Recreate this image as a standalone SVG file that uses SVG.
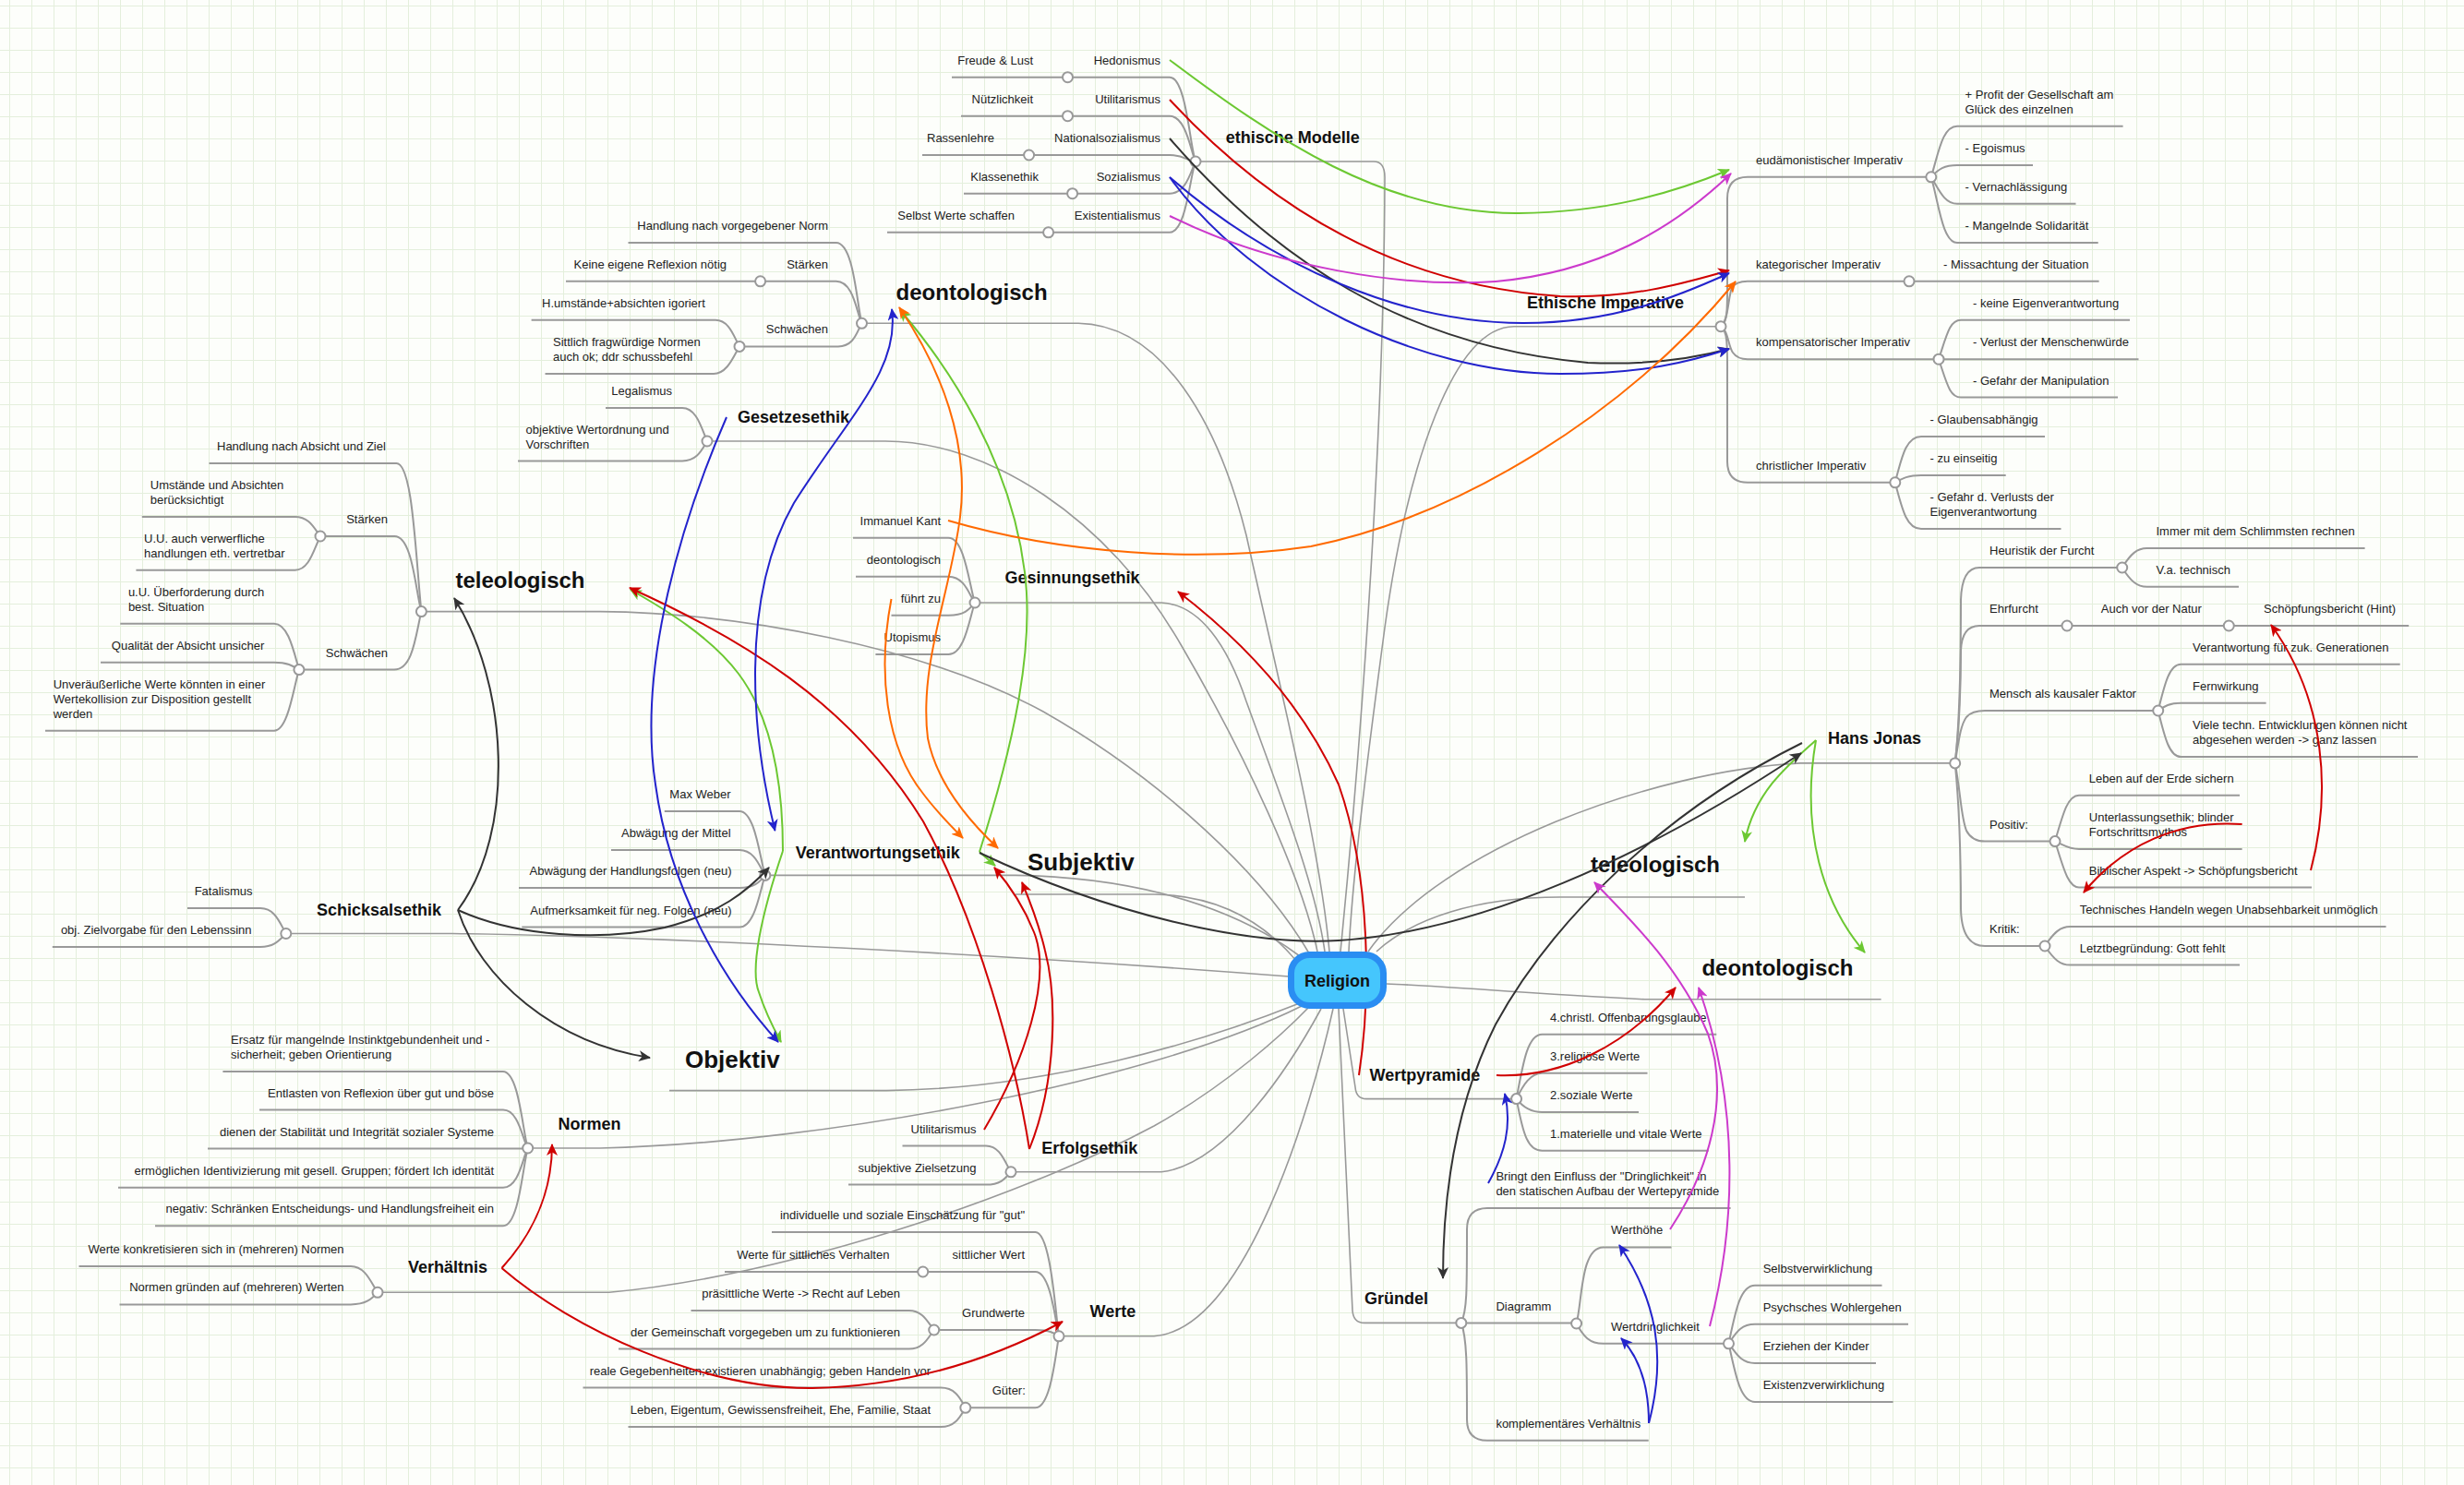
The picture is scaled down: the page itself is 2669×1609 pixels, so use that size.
<svg xmlns="http://www.w3.org/2000/svg" width="2669" height="1609" viewBox="0 0 2669 1609">
<defs>
<style>
.t{font-family:"Liberation Sans",Arial,sans-serif;font-size:13px;fill:#222}
.e{text-anchor:end}
.h{font-family:"Liberation Sans",Arial,sans-serif;font-weight:bold;font-size:18px;fill:#111}
.h24{font-size:24px}
.h26{font-size:26px}
.ln{fill:none;stroke:#999;stroke-width:2}
.cn{fill:none;stroke:#999;stroke-width:1.6}
.hub{fill:#fff;stroke:#999;stroke-width:2}
.rel{fill:none;stroke-width:2}
.g{stroke:#6cc832}.r{stroke:#d00000}.b{stroke:#2323cc}.k{stroke:#333}.o{stroke:#ff6a00}.m{stroke:#cc3acc}
</style>
<pattern id="grid" x="10" y="6" width="24" height="24" patternUnits="userSpaceOnUse"><path d="M0.5,0 V24 M0,0.5 H24" fill="none" stroke="#e4efdc" stroke-width="1"/></pattern>
<marker id="aG" markerUnits="userSpaceOnUse" markerWidth="14" markerHeight="12" refX="12" refY="6" orient="auto-start-reverse"><path d="M0,0 L13,6 L0,12 L3.5,6 z" fill="#6cc832"/></marker>
<marker id="aR" markerUnits="userSpaceOnUse" markerWidth="14" markerHeight="12" refX="12" refY="6" orient="auto-start-reverse"><path d="M0,0 L13,6 L0,12 L3.5,6 z" fill="#d00000"/></marker>
<marker id="aB" markerUnits="userSpaceOnUse" markerWidth="14" markerHeight="12" refX="12" refY="6" orient="auto-start-reverse"><path d="M0,0 L13,6 L0,12 L3.5,6 z" fill="#2323cc"/></marker>
<marker id="aK" markerUnits="userSpaceOnUse" markerWidth="14" markerHeight="12" refX="12" refY="6" orient="auto-start-reverse"><path d="M0,0 L13,6 L0,12 L3.5,6 z" fill="#333"/></marker>
<marker id="aO" markerUnits="userSpaceOnUse" markerWidth="14" markerHeight="12" refX="12" refY="6" orient="auto-start-reverse"><path d="M0,0 L13,6 L0,12 L3.5,6 z" fill="#ff6a00"/></marker>
<marker id="aM" markerUnits="userSpaceOnUse" markerWidth="14" markerHeight="12" refX="12" refY="6" orient="auto-start-reverse"><path d="M0,0 L13,6 L0,12 L3.5,6 z" fill="#cc3acc"/></marker>
</defs>
<rect width="2669" height="1609" fill="#fdfefb"/>
<rect width="2669" height="1609" fill="url(#grid)"/>

<g id="connectors">
<!-- main connectors to Religion -->
<path class="cn" d="M1295,175 H1488 Q1500,175 1500,192 C1499,500 1470,850 1452,1031"/>
<path class="cn" d="M1864,353.7 H1640 C1575,354 1525,500 1500,680 C1480,830 1465,950 1461,1031"/>
<path class="cn" d="M933.5,350.3 H1168 C1260,352 1320,460 1350,580 C1390,760 1430,920 1440,1031"/>
<path class="cn" d="M766,478 H959 C1070,478 1200,560 1280,700 C1350,820 1410,950 1427,1031"/>
<path class="cn" d="M1056,653 H1258 C1300,655 1330,700 1350,760 C1390,870 1425,960 1435,1031"/>
<path class="cn" d="M456.4,662.6 H650 C800,664 1000,700 1130,771 C1260,845 1370,950 1418,1033"/>
<path class="cn" d="M828.8,948.4 H1100 C1200,950 1320,970 1408,1036"/>
<path class="cn" d="M1100,969 H1250 C1320,970 1370,1000 1405,1042"/>
<path class="cn" d="M309.8,1011.5 H490 C700,1014 1100,1035 1396,1058"/>
<path class="cn" d="M725,1181.6 H960 C1130,1180 1300,1130 1405,1088"/>
<path class="cn" d="M571.7,1244 H650 C900,1238 1250,1170 1410,1090"/>
<path class="cn" d="M409,1400.3 H660 C850,1382 1100,1300 1250,1220 C1330,1175 1390,1120 1418,1091"/>
<path class="cn" d="M1095,1269.8 H1258 C1330,1262 1400,1150 1431,1093"/>
<path class="cn" d="M1147,1447.8 H1250 C1350,1440 1420,1200 1444,1093"/>
<path class="cn" d="M2117.7,826.9 H1950 C1790,835 1560,920 1482,1031"/>
<path class="cn" d="M1890,972 H1690 C1600,972 1530,995 1491,1031"/>
<path class="cn" d="M2037.6,1082.8 H1781.5 C1650,1076 1560,1068 1502,1066"/>
<path class="cn" d="M1642.6,1190.6 H1480 Q1469,1190.6 1468,1178 L1455,1093"/>
<path class="cn" d="M1582.8,1433.4 H1478 Q1466,1433.4 1465,1420 L1450,1093"/>

<!-- ethische Modelle -->
<path class="ln" d="M1031,83.7 H1267 C1285,83.7 1289,160 1295,175"/>
<path class="ln" d="M1041,125.7 H1267 C1285,125.7 1290,165 1295,175"/>
<path class="ln" d="M999,168 H1267 C1283,168 1288,175 1295,175"/>
<path class="ln" d="M1044,209.7 H1267 C1285,209.7 1290,185 1295,175"/>
<path class="ln" d="M961,251.8 H1267 C1285,251.8 1289,190 1295,175"/>

<!-- Ethische Imperative -->
<path class="ln" d="M1864,353.7 C1872,350 1871,330 1871,300 V215 Q1871,191.8 1893,191.8 H2091.8"/>
<path class="ln" d="M1864,353.7 C1872,350 1872,320 1876,312 Q1880,304.8 1893,304.8 H2273.6"/>
<path class="ln" d="M1864,353.7 C1872,358 1872,375 1877,382 Q1882,389.2 1893,389.2 H2100"/>
<path class="ln" d="M1864,353.7 C1872,358 1871,380 1871,410 V500 Q1871,522.8 1893,522.8 H2052.8"/>
<path class="ln" d="M2091.8,191.8 C2100,165 2104,136.7 2120,136.7 H2299.6"/>
<path class="ln" d="M2091.8,191.8 C2100,183 2106,179 2120,179 H2202"/>
<path class="ln" d="M2091.8,191.8 C2100,205 2106,220.8 2120,220.8 H2248.5"/>
<path class="ln" d="M2091.8,191.8 C2100,220 2104,263 2120,263 H2272.7"/>
<path class="ln" d="M2100,389.2 C2109,362 2112,346.8 2124,346.8 H2307"/>
<path class="ln" d="M2100,389.2 H2316.5"/>
<path class="ln" d="M2100,389.2 C2109,416 2112,430.5 2124,430.5 H2294"/>
<path class="ln" d="M2052.8,522.8 C2061,490 2066,472.9 2081,472.9 H2215"/>
<path class="ln" d="M2052.8,522.8 C2061,518 2067,515 2081,515 H2172.7"/>
<path class="ln" d="M2052.8,522.8 C2061,555 2066,573 2081,573 H2232.5"/>

<!-- deontologisch left -->
<path class="ln" d="M680.5,263 H905.7 C925,263 928,330 933.5,350.3"/>
<path class="ln" d="M613,304.8 H905.7 C925,304.8 928,340 933.5,350.3"/>
<path class="ln" d="M801,375.4 H907.8 C925,375.4 928,360 933.5,350.3"/>
<path class="ln" d="M575.6,346.8 H775 C790,346.8 795,365 801,375.4"/>
<path class="ln" d="M590.5,405 H773 C788,405 795,385 801,375.4"/>

<!-- Gesetzesethik -->
<path class="ln" d="M656,442 H739 C755,442 760,465 766,478"/>
<path class="ln" d="M561,499.4 H739 C755,499.4 760,488 766,478"/>

<!-- teleologisch left -->
<path class="ln" d="M226.5,502 H429.4 C447,502 450,600 456.4,662.6"/>
<path class="ln" d="M347,581 H427.3 C447,581 450,640 456.4,662.6"/>
<path class="ln" d="M153.8,560 H319.6 C335,560 340,572 347,581"/>
<path class="ln" d="M147.4,617.8 H319.6 C335,617.8 340,595 347,581"/>
<path class="ln" d="M323.9,725.6 H427 C447,725.6 450,690 456.4,662.6"/>
<path class="ln" d="M130.3,675.7 H297 C312,675.7 318,705 323.9,725.6"/>
<path class="ln" d="M109,717.7 H297 C312,717.7 318,722 323.9,725.6"/>
<path class="ln" d="M49,791.7 H297 C312,791.7 318,745 323.9,725.6"/>

<!-- Schicksalsethik -->
<path class="ln" d="M203,984 H282 C298,984 303,1000 309.8,1011.5"/>
<path class="ln" d="M56.8,1026 H282 C298,1026 303,1018 309.8,1011.5"/>

<!-- Verantwortungsethik -->
<path class="ln" d="M719.8,878.9 H801 C818,878.9 823,930 828.8,948.4"/>
<path class="ln" d="M662,921 H801 C818,921 823,940 828.8,948.4"/>
<path class="ln" d="M562,962 H801 C818,962 823,955 828.8,948.4"/>
<path class="ln" d="M565.3,1004.6 H801 C818,1004.6 823,965 828.8,948.4"/>

<!-- Gesinnungsethik -->
<path class="ln" d="M924,582.7 H1027.5 C1045,582.7 1050,635 1056,653"/>
<path class="ln" d="M927,624.7 H1027.5 C1045,624.7 1050,645 1056,653"/>
<path class="ln" d="M965.5,666.7 H1027.5 C1045,666.7 1050,660 1056,653"/>
<path class="ln" d="M948.4,709 H1027.5 C1045,709 1050,670 1056,653"/>

<!-- Normen -->
<path class="ln" d="M241.4,1161 H544.8 C562,1161 566,1225 571.7,1244"/>
<path class="ln" d="M281,1202.6 H545 C562,1202.6 566,1235 571.7,1244"/>
<path class="ln" d="M225,1244.6 H571.7"/>
<path class="ln" d="M128,1286.7 H545 C562,1286.7 566,1255 571.7,1244"/>
<path class="ln" d="M168,1328.3 H545 C562,1328.3 566,1265 571.7,1244"/>

<!-- Verhältnis -->
<path class="ln" d="M85.5,1372 H380 C396,1372 402,1390 409,1400.3"/>
<path class="ln" d="M129.5,1413.4 H380 C396,1413.4 402,1408 409,1400.3"/>

<!-- Erfolgsethik -->
<path class="ln" d="M977.5,1241.5 H1068 C1083,1241.5 1088,1258 1095,1269.8"/>
<path class="ln" d="M919,1283.6 H1068 C1083,1283.6 1088,1278 1095,1269.8"/>

<!-- Werte -->
<path class="ln" d="M836,1335 H1121.5 C1138,1335 1143,1420 1147,1447.8"/>
<path class="ln" d="M785,1378 H1121.5 C1138,1378 1143,1430 1147,1447.8"/>
<path class="ln" d="M1011.7,1441 H1121.5 C1138,1441 1143,1445 1147,1447.8"/>
<path class="ln" d="M1045.8,1525.3 H1121.5 C1138,1525.3 1143,1470 1147,1447.8"/>
<path class="ln" d="M748.5,1420 H984.7 C1000,1420 1005,1433 1011.7,1441"/>
<path class="ln" d="M670,1461.6 H984.7 C1000,1461.6 1005,1450 1011.7,1441"/>
<path class="ln" d="M631.5,1503.6 H1019 C1035,1503.6 1040,1515 1045.8,1525.3"/>
<path class="ln" d="M680.5,1546 H1019 C1035,1546 1040,1535 1045.8,1525.3"/>

<!-- Hans Jonas -->
<path class="ln" d="M2117.7,826.9 C2122,790 2124,720 2124,650 Q2125,615 2144,615 H2298.7"/>
<path class="ln" d="M2117.7,826.9 C2122,790 2124,740 2124,705 Q2125,678 2144,678 H2609.2"/>
<path class="ln" d="M2117.7,826.9 C2122,800 2124,785 2130,777 Q2136,770 2150,770 H2337.7"/>
<path class="ln" d="M2117.7,826.9 C2124,860 2124,885 2130,900 Q2136,911.6 2150,911.6 H2226"/>
<path class="ln" d="M2117.7,826.9 C2122,870 2124,920 2124,985 Q2125,1025 2150,1025 H2215"/>
<path class="ln" d="M2298.7,615 C2308,600 2315,594 2325.6,594 H2561.6"/>
<path class="ln" d="M2298.7,615 C2308,630 2315,635.7 2325.6,635.7 H2425"/>
<path class="ln" d="M2337.7,770 C2345,740 2350,719.8 2362.4,719.8 H2599.7"/>
<path class="ln" d="M2337.7,770 C2345,765 2350,761.8 2362.4,761.8 H2454.6"/>
<path class="ln" d="M2337.7,770 C2345,800 2350,820 2362.4,820 H2619"/>
<path class="ln" d="M2226,911.6 C2235,880 2240,861.7 2252,861.7 H2426"/>
<path class="ln" d="M2226,911.6 C2235,915 2240,919.9 2252,919.9 H2428.6"/>
<path class="ln" d="M2226,911.6 C2235,940 2240,961.5 2252,961.5 H2504"/>
<path class="ln" d="M2215,1025 C2225,1010 2232,1004 2242.4,1004 H2584.5"/>
<path class="ln" d="M2215,1025 C2225,1040 2232,1045.6 2242.4,1045.6 H2426"/>

<!-- Wertpyramide -->
<path class="ln" d="M1642.6,1190.6 C1650,1150 1655,1120.7 1670.4,1120.7 H1859.3"/>
<path class="ln" d="M1642.6,1190.6 C1650,1175 1658,1162.7 1670.4,1162.7 H1784.5"/>
<path class="ln" d="M1642.6,1190.6 C1650,1200 1658,1205 1670.4,1205 H1775"/>
<path class="ln" d="M1642.6,1190.6 C1650,1230 1655,1246.7 1670.4,1246.7 H1850.7"/>

<!-- Gründel -->
<path class="ln" d="M1582.8,1433.4 C1589,1420 1589,1400 1589,1332 Q1589,1309 1611,1309 H1874.6"/>
<path class="ln" d="M1582.8,1433.4 H1707.6"/>
<path class="ln" d="M1582.8,1433.4 C1589,1450 1589,1480 1589,1538 Q1589,1560.8 1611,1560.8 H1785.7"/>
<path class="ln" d="M1707.6,1434 C1714,1410 1712,1351.4 1736.6,1351.4 H1810.5"/>
<path class="ln" d="M1707.6,1434 C1715,1448 1722,1455.8 1736.6,1455.8 H1872.5"/>
<path class="ln" d="M1872.5,1455.8 C1880,1420 1885,1392.7 1901,1392.7 H2038.5"/>
<path class="ln" d="M1872.5,1455.8 C1880,1445 1885,1434.8 1901,1434.8 H2067"/>
<path class="ln" d="M1872.5,1455.8 C1880,1465 1885,1477 1901,1477 H2032"/>
<path class="ln" d="M1872.5,1455.8 C1880,1490 1885,1519 1901,1519 H2050.6"/>
</g>

<g id="node-ethische-modelle">
<text class="h" x="1327.7" y="155">ethische Modelle</text>
<text class="t e" x="1257" y="70">Hedonismus</text>
<text class="t e" x="1257" y="112">Utilitarismus</text>
<text class="t e" x="1257" y="154">Nationalsozialismus</text>
<text class="t e" x="1257" y="196">Sozialismus</text>
<text class="t e" x="1257" y="238">Existentialismus</text>
<text class="t e" x="1119" y="70">Freude &amp; Lust</text>
<text class="t e" x="1119" y="112">Nützlichkeit</text>
<text class="t e" x="1077" y="154">Rassenlehre</text>
<text class="t e" x="1125" y="196">Klassenethik</text>
<text class="t e" x="1099" y="238">Selbst Werte schaffen</text>
<circle class="hub" cx="1156.5" cy="83.7" r="5.5"/>
<circle class="hub" cx="1156.5" cy="125.7" r="5.5"/>
<circle class="hub" cx="1114.6" cy="168" r="5.5"/>
<circle class="hub" cx="1161.6" cy="209.7" r="5.5"/>
<circle class="hub" cx="1135.6" cy="251.8" r="5.5"/>
<circle class="hub" cx="1295" cy="175" r="5.5"/>
</g>

<g id="node-ethische-imperative">
<text class="h" x="1654" y="333.5">Ethische Imperative</text>
<text class="t" x="1902" y="178">eudämonistischer Imperativ</text>
<text class="t" x="1902" y="291">kategorischer Imperativ</text>
<text class="t" x="1902" y="375">kompensatorischer Imperativ</text>
<text class="t" x="1902" y="509">christlicher Imperativ</text>
<text class="t" x="2128.6" y="106.7">+ Profit der Gesellschaft am</text>
<text class="t" x="2128.6" y="122.7">Glück des einzelnen</text>
<text class="t" x="2128.6" y="165">- Egoismus</text>
<text class="t" x="2128.6" y="206.8">- Vernachlässigung</text>
<text class="t" x="2128.6" y="249">- Mangelnde Solidarität</text>
<text class="t" x="2105" y="290.8">- Missachtung der Situation</text>
<text class="t" x="2137" y="332.8">- keine Eigenverantwortung</text>
<text class="t" x="2137" y="375.2">- Verlust der Menschenwürde</text>
<text class="t" x="2137" y="416.5">- Gefahr der Manipulation</text>
<text class="t" x="2090.5" y="458.9">- Glaubensabhängig</text>
<text class="t" x="2090.5" y="501">- zu einseitig</text>
<text class="t" x="2090.5" y="543">- Gefahr d. Verlusts der</text>
<text class="t" x="2090.5" y="559">Eigenverantwortung</text>
<circle class="hub" cx="1864" cy="353.7" r="5.5"/>
<circle class="hub" cx="2091.8" cy="191.8" r="5.5"/>
<circle class="hub" cx="2068" cy="304.8" r="5.5"/>
<circle class="hub" cx="2100" cy="389.2" r="5.5"/>
<circle class="hub" cx="2052.8" cy="522.8" r="5.5"/>
</g>

<g id="node-deontologisch-links">
<text class="h h24" x="970.6" y="325">deontologisch</text>
<text class="t e" x="897" y="249">Handlung nach vorgegebener Norm</text>
<text class="t e" x="897" y="290.8">Stärken</text>
<text class="t e" x="787" y="290.8">Keine eigene Reflexion nötig</text>
<text class="t e" x="897" y="361.4">Schwächen</text>
<text class="t e" x="763.8" y="332.8">H.umstände+absichten igoriert</text>
<text class="t" x="599" y="375">Sittlich fragwürdige Normen</text>
<text class="t" x="599" y="391">auch ok; ddr schussbefehl</text>
<circle class="hub" cx="823.6" cy="304.8" r="5.5"/>
<circle class="hub" cx="801" cy="375.4" r="5.5"/>
<circle class="hub" cx="933.5" cy="350.3" r="5.5"/>
</g>

<g id="node-gesetzesethik">
<text class="h" x="798.9" y="458">Gesetzesethik</text>
<text class="t e" x="728" y="428">Legalismus</text>
<text class="t" x="569.6" y="469.5">objektive Wertordnung und</text>
<text class="t" x="569.6" y="485.5">Vorschriften</text>
<circle class="hub" cx="766" cy="478" r="5.5"/>
</g>

<g id="node-teleologisch-links">
<text class="h h24" x="493.5" y="637">teleologisch</text>
<text class="t" x="235" y="488">Handlung nach Absicht und Ziel</text>
<text class="t e" x="420" y="567">Stärken</text>
<text class="t" x="162.8" y="530">Umstände und Absichten</text>
<text class="t" x="162.8" y="546">berücksichtigt</text>
<text class="t" x="156" y="588">U.U. auch verwerfliche</text>
<text class="t" x="156" y="604">handlungen eth. vertretbar</text>
<text class="t e" x="420" y="711.6">Schwächen</text>
<text class="t" x="138.9" y="646">u.U. Überforderung durch</text>
<text class="t" x="138.9" y="662">best. Situation</text>
<text class="t e" x="286.3" y="703.7">Qualität der Absicht unsicher</text>
<text class="t" x="57.7" y="746">Unveräußerliche Werte könnten in einer</text>
<text class="t" x="57.7" y="762">Wertekollision zur Disposition gestellt</text>
<text class="t" x="57.7" y="778">werden</text>
<circle class="hub" cx="347" cy="581" r="5.5"/>
<circle class="hub" cx="323.9" cy="725.6" r="5.5"/>
<circle class="hub" cx="456.4" cy="662.6" r="5.5"/>
</g>

<g id="node-schicksalsethik">
<text class="h" x="343" y="991.5">Schicksalsethik</text>
<text class="t e" x="273.5" y="970">Fatalismus</text>
<text class="t e" x="272.6" y="1012">obj. Zielvorgabe für den Lebenssinn</text>
<circle class="hub" cx="309.8" cy="1011.5" r="5.5"/>
</g>

<g id="node-verantwortungsethik">
<text class="h" x="861.7" y="929.5">Verantwortungsethik</text>
<text class="t e" x="791.6" y="865">Max Weber</text>
<text class="t e" x="791.6" y="907">Abwägung der Mittel</text>
<text class="t e" x="792.5" y="948">Abwägung der Handlungsfolgen (neu)</text>
<text class="t e" x="792.5" y="990.6">Aufmerksamkeit für neg. Folgen (neu)</text>
<circle class="hub" cx="828.8" cy="948.4" r="5.5"/>
</g>

<g id="node-gesinnungsethik">
<text class="h" x="1088.6" y="631.6">Gesinnungsethik</text>
<text class="t e" x="1019" y="568.7">Immanuel Kant</text>
<text class="t e" x="1019" y="610.7">deontologisch</text>
<text class="t e" x="1019" y="652.7">führt zu</text>
<text class="t e" x="1019" y="695">Utopismus</text>
<circle class="hub" cx="1056" cy="653" r="5.5"/>
</g>

<g id="node-subjektiv">
<text class="h h26" x="1113" y="943">Subjektiv</text>
</g>

<g id="node-objektiv">
<text class="h h26" x="742" y="1157">Objektiv</text>
</g>

<g id="node-normen">
<text class="h" x="604.6" y="1224">Normen</text>
<text class="t" x="250" y="1131">Ersatz für mangelnde Instinktgebundenheit und -</text>
<text class="t" x="250" y="1147">sicherheit; geben Orientierung</text>
<text class="t e" x="535" y="1188.6">Entlasten von Reflexion über gut und böse</text>
<text class="t e" x="535" y="1230.6">dienen der Stabilität und Integrität sozialer Systeme</text>
<text class="t e" x="535" y="1272.7">ermöglichen Identivizierung mit gesell. Gruppen; fördert Ich identität</text>
<text class="t e" x="535" y="1314.3">negativ: Schränken Entscheidungs- und Handlungsfreiheit ein</text>
<circle class="hub" cx="571.7" cy="1244" r="5.5"/>
</g>

<g id="node-verhaeltnis">
<text class="h" x="442" y="1379">Verhältnis</text>
<text class="t e" x="372.6" y="1358">Werte konkretisieren sich in (mehreren) Normen</text>
<text class="t e" x="372.6" y="1399.4">Normen gründen auf (mehreren) Werten</text>
<circle class="hub" cx="409" cy="1400.3" r="5.5"/>
</g>

<g id="node-erfolgsethik">
<text class="h" x="1128.3" y="1250">Erfolgsethik</text>
<text class="t e" x="1057.4" y="1227.5">Utilitarismus</text>
<text class="t e" x="1057.4" y="1269.6">subjektive Zielsetzung</text>
<circle class="hub" cx="1095" cy="1269.8" r="5.5"/>
</g>

<g id="node-werte">
<text class="h" x="1180.5" y="1427">Werte</text>
<text class="t e" x="1110" y="1321">individuelle und soziale Einschätzung für "gut"</text>
<text class="t e" x="1110" y="1364">sittlicher Wert</text>
<text class="t e" x="963.4" y="1364">Werte für sittliches Verhalten</text>
<text class="t e" x="1110" y="1427">Grundwerte</text>
<text class="t e" x="975" y="1406">präsittliche Werte -&gt; Recht auf Leben</text>
<text class="t e" x="975" y="1447.6">der Gemeinschaft vorgegeben um zu funktionieren</text>
<text class="t e" x="1110.8" y="1511">Güter:</text>
<text class="t e" x="1008" y="1489.6">reale Gegebenheiten;existieren unabhängig; geben Handeln vor</text>
<text class="t e" x="1008" y="1532">Leben, Eigentum, Gewissensfreiheit, Ehe, Familie, Staat</text>
<circle class="hub" cx="999.7" cy="1378" r="5.5"/>
<circle class="hub" cx="1011.7" cy="1441" r="5.5"/>
<circle class="hub" cx="1045.8" cy="1525.3" r="5.5"/>
<circle class="hub" cx="1147" cy="1447.8" r="5.5"/>
</g>

<g id="node-hans-jonas">
<text class="h" x="1980" y="806">Hans Jonas</text>
<text class="t" x="2155" y="601">Heuristik der Furcht</text>
<text class="t" x="2335.5" y="580">Immer mit dem Schlimmsten rechnen</text>
<text class="t" x="2335.5" y="621.7">V.a. technisch</text>
<text class="t" x="2155" y="664">Ehrfurcht</text>
<text class="t" x="2275.8" y="664">Auch vor der Natur</text>
<text class="t" x="2452" y="664">Schöpfungsbericht (Hint)</text>
<text class="t" x="2155" y="756">Mensch als kausaler Faktor</text>
<text class="t" x="2375" y="705.8">Verantwortung für zuk. Generationen</text>
<text class="t" x="2375" y="747.8">Fernwirkung</text>
<text class="t" x="2375" y="790">Viele techn. Entwicklungen können nicht</text>
<text class="t" x="2375" y="806">abgesehen werden -&gt; ganz lassen</text>
<text class="t" x="2155" y="897.6">Positiv:</text>
<text class="t" x="2262.8" y="847.7">Leben auf der Erde sichern</text>
<text class="t" x="2262.8" y="889.9">Unterlassungsethik; blinder</text>
<text class="t" x="2262.8" y="905.9">Fortschrittsmythos</text>
<text class="t" x="2262.8" y="947.5">Biblischer Aspekt -&gt; Schöpfungsbericht</text>
<text class="t" x="2155" y="1011">Kritik:</text>
<text class="t" x="2252.8" y="990">Technisches Handeln wegen Unabsehbarkeit unmöglich</text>
<text class="t" x="2252.8" y="1031.6">Letztbegründung: Gott fehlt</text>
<circle class="hub" cx="2298.7" cy="615" r="5.5"/>
<circle class="hub" cx="2239" cy="678" r="5.5"/>
<circle class="hub" cx="2414.3" cy="678" r="5.5"/>
<circle class="hub" cx="2337.7" cy="770" r="5.5"/>
<circle class="hub" cx="2226" cy="911.6" r="5.5"/>
<circle class="hub" cx="2215" cy="1025" r="5.5"/>
<circle class="hub" cx="2117.7" cy="826.9" r="5.5"/>
</g>

<g id="node-teleologisch-rechts">
<text class="h h24" x="1723" y="945">teleologisch</text>
</g>

<g id="node-deontologisch-rechts">
<text class="h h24" x="1843.4" y="1057">deontologisch</text>
</g>

<g id="node-wertpyramide">
<text class="h" x="1483.6" y="1170.6">Wertpyramide</text>
<text class="t" x="1679" y="1106.7">4.christl. Offenbarungsglaube</text>
<text class="t" x="1679" y="1148.7">3.religiöse Werte</text>
<text class="t" x="1679" y="1191">2.soziale Werte</text>
<text class="t" x="1679" y="1232.7">1.materielle und vitale Werte</text>
<circle class="hub" cx="1642.6" cy="1190.6" r="5.5"/>
</g>

<g id="node-gruendel">
<text class="h" x="1478" y="1413.4">Gründel</text>
<text class="t" x="1620.4" y="1279">Bringt den Einfluss der "Dringlichkeit" in</text>
<text class="t" x="1620.4" y="1295">den statischen Aufbau der Wertepyramide</text>
<text class="t" x="1620.4" y="1420">Diagramm</text>
<text class="t" x="1745" y="1337.4">Werthöhe</text>
<text class="t" x="1745" y="1441.8">Wertdringlichkeit</text>
<text class="t" x="1909.7" y="1378.7">Selbstverwirklichung</text>
<text class="t" x="1909.7" y="1420.8">Psychsches Wohlergehen</text>
<text class="t" x="1909.7" y="1463">Erziehen der Kinder</text>
<text class="t" x="1909.7" y="1505">Existenzverwirklichung</text>
<text class="t" x="1620.4" y="1546.8">komplementäres Verhältnis</text>
<circle class="hub" cx="1707.6" cy="1434" r="5.5"/>
<circle class="hub" cx="1872.5" cy="1455.8" r="5.5"/>
<circle class="hub" cx="1582.8" cy="1433.4" r="5.5"/>
</g>

<g id="relations">
<!-- green -->
<path class="rel g" marker-end="url(#aG)" d="M1267,65 C1380,150 1500,232 1645,231 C1740,230 1810,210 1873,184"/>
<path class="rel g" marker-end="url(#aG)" d="M848,922 C848,830 830,770 800,730 C770,690 720,660 683,639"/>
<path class="rel g" marker-end="url(#aG)" d="M848,922 C825,990 812,1050 822,1075 C830,1100 840,1118 846,1129"/>
<path class="rel g" marker-end="url(#aG)" d="M1061,923 C1100,800 1120,700 1110,620 C1095,500 1030,400 975,336"/>
<path class="rel g" marker-end="url(#aG)" d="M1061,923 L1078,938"/>
<path class="rel g" marker-end="url(#aG)" d="M1967,802 C1935,830 1900,860 1890,912"/>
<path class="rel g" marker-end="url(#aG)" d="M1967,802 C1950,900 1975,980 2020,1032"/>
<!-- red -->
<path class="rel r" marker-end="url(#aR)" d="M1267,108 C1380,230 1520,310 1690,321 C1770,324 1830,305 1873,293"/>
<path class="rel r" marker-end="url(#aR)" d="M1115,1245 C1100,1150 1060,1000 1000,890 C920,760 800,690 682,637"/>
<path class="rel r" marker-end="url(#aR)" d="M1066,1224 C1110,1150 1140,1060 1120,1010 C1108,980 1090,955 1077,940"/>
<path class="rel r" marker-end="url(#aR)" d="M1115,1245 C1145,1170 1145,1080 1132,1030 C1125,1000 1115,975 1107,956"/>
<path class="rel r" marker-end="url(#aR)" d="M1472,1165 C1485,1080 1485,950 1450,850 C1410,760 1340,690 1276,641"/>
<path class="rel r" marker-end="url(#aR)" d="M1621,1165 C1690,1168 1760,1135 1815,1070"/>
<path class="rel r" marker-end="url(#aR)" d="M543.5,1374 C570,1345 598,1300 598,1240"/>
<path class="rel r" marker-end="url(#aR)" d="M543.5,1374 C620,1440 760,1505 880,1504 C990,1502 1080,1470 1151,1432"/>
<path class="rel r" marker-end="url(#aR)" d="M2503,943 C2525,860 2520,760 2460,677"/>
<path class="rel r" marker-end="url(#aR)" d="M2428.6,893 C2360,888 2300,915 2257,967"/>
<!-- black -->
<path class="rel k" marker-end="url(#aK)" d="M1267,150 C1380,280 1520,375 1720,393 C1790,396 1840,387 1873,378"/>
<path class="rel k" marker-end="url(#aK)" d="M1061,924 C1200,990 1350,1025 1450,1019 C1600,1010 1780,930 1951,816"/>
<path class="rel k" marker-end="url(#aK)" d="M1952,805 C1800,880 1680,1000 1620,1110 C1575,1200 1563,1300 1563,1385"/>
<path class="rel k" marker-end="url(#aK)" d="M496,986 C560,900 550,740 492,648"/>
<path class="rel k" marker-end="url(#aK)" d="M496,986 C520,1060 600,1130 704,1146"/>
<path class="rel k" marker-end="url(#aK)" d="M496,986 C560,1015 650,1020 720,1005 C780,990 810,965 833,940"/>
<!-- blue -->
<path class="rel b" marker-end="url(#aB)" d="M1267,192 C1380,290 1520,350 1650,350 C1750,350 1820,320 1873,296"/>
<path class="rel b" marker-end="url(#aB)" d="M1267,192 C1360,320 1540,405 1690,405 C1780,405 1830,392 1873,378"/>
<path class="rel b" marker-start="url(#aB)" marker-end="url(#aB)" d="M839.5,900 C815,800 800,650 860,545 C920,450 975,400 966,335"/>
<path class="rel b" marker-end="url(#aB)" d="M787,452 C740,560 690,720 710,850 C725,960 780,1060 843,1129"/>
<path class="rel b" marker-end="url(#aB)" d="M1612,1282 C1630,1250 1638,1220 1630,1185"/>
<path class="rel b" marker-end="url(#aB)" d="M1786,1542 C1805,1470 1795,1410 1754,1349"/>
<path class="rel b" marker-end="url(#aB)" d="M1786,1542 C1786,1500 1775,1470 1756,1450"/>
<!-- magenta -->
<path class="rel m" marker-end="url(#aM)" d="M1267,234 C1380,290 1520,312 1620,305 C1730,295 1810,250 1875,188"/>
<path class="rel m" marker-end="url(#aM)" d="M1809,1332 C1850,1270 1875,1190 1850,1120 C1820,1050 1770,1000 1727,956"/>
<path class="rel m" marker-end="url(#aM)" d="M1852,1437 C1880,1330 1885,1200 1840,1070"/>
<!-- orange -->
<path class="rel o" marker-end="url(#aO)" d="M1027,564 C1150,600 1300,610 1420,592 C1580,560 1760,450 1880,305"/>
<path class="rel o" marker-end="url(#aO)" d="M965.5,649 C950,730 960,810 1000,860 C1015,880 1030,895 1043,908"/>
<path class="rel o" marker-start="url(#aO)" marker-end="url(#aO)" d="M974,333 C1020,400 1050,480 1040,560 C1030,640 995,720 1005,800 C1015,850 1050,890 1081,919"/>
</g>

<g id="node-religion">
<rect x="1398.5" y="1034.5" width="100" height="55" rx="20" fill="#45c6fd" stroke="#2a8df2" stroke-width="7"/>
<text class="h" x="1448.5" y="1068.5" text-anchor="middle">Religion</text>
</g>
</svg>
